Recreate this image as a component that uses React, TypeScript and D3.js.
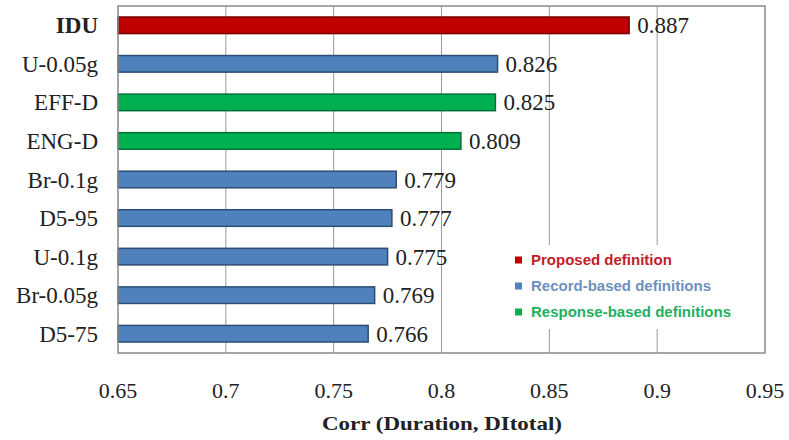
import React from "react";
import * as d3 from "d3";

const categories = ["IDU", "U-0.05g", "EFF-D", "ENG-D", "Br-0.1g", "D5-95", "U-0.1g", "Br-0.05g", "D5-75"];
const values = [0.887, 0.826, 0.825, 0.809, 0.779, 0.777, 0.775, 0.769, 0.766];
const groups = ["proposed", "record", "response", "response", "record", "record", "record", "record", "record"];
const ticks = [0.65, 0.7, 0.75, 0.8, 0.85, 0.9, 0.95];
const legendLabels = ["Proposed definition", "Record-based definitions", "Response-based definitions"];
const legendKeys = ["proposed", "record", "response"];

const fills: Record<string, string> = { proposed: "#C00000", record: "#4F81BD", response: "#00B050" };
const strokes: Record<string, string> = { proposed: "#7a0000", record: "#2c4d75", response: "#00703a" };
const textColors: Record<string, string> = { proposed: "#c0202a", record: "#6f8fc0", response: "#1fb060" };

const W = 789, H = 440;
const L = 118, R = 765, T = 6, B = 353;

export default function App() {
  const x = d3.scaleLinear().domain([0.65, 0.95]).range([L, R]);
  const y = d3.scaleBand<string>().domain(categories).range([T, B]).paddingInner(0.57).paddingOuter(0.285);
  const serif = "'Liberation Serif', 'Times New Roman', serif";
  const sans = "'Liberation Sans', Arial, sans-serif";
  return (
    <svg width={W} height={H} style={{ position: "absolute", left: 0, top: 0, background: "#fff" }}>
      <rect x={0} y={0} width={W} height={H} fill="#fff" />
      <rect x={L} y={T} width={R - L} height={B - T} fill="#fff" />
      {ticks.slice(1, -1).map((t) => (
        <line key={t} x1={x(t)} x2={x(t)} y1={T} y2={B} stroke="#9a9a9a" strokeWidth={1} />
      ))}
      <rect x={505} y={245} width={255} height={84} fill="#fff" />
      {categories.map((c, i) => (
        <g key={c}>
          <rect
            x={x(0.65)}
            y={y(c)!}
            width={x(values[i]) - x(0.65)}
            height={y.bandwidth()}
            fill={fills[groups[i]]}
            stroke={strokes[groups[i]]}
            strokeWidth={1.5}
          />
          <text
            x={L - 20}
            y={y(c)! + y.bandwidth() / 2}
            dy="0.35em"
            textAnchor="end"
            fontFamily={serif}
            fontSize={23}
            fontWeight={c === "IDU" ? "bold" : "normal"}
            fill="#222"
          >
            {c}
          </text>
          <text
            x={x(values[i]) + 8}
            y={y(c)! + y.bandwidth() / 2}
            dy="0.35em"
            fontFamily={serif}
            fontSize={23}
            fill="#222"
          >
            {values[i].toFixed(3)}
          </text>
        </g>
      ))}
      <rect x={L} y={T} width={R - L} height={B - T} fill="none" stroke="#8a8a8a" strokeWidth={1.5} />
      {ticks.map((t) => (
        <text key={t} x={x(t)} y={390} dy="0.35em" textAnchor="middle" fontFamily={serif} fontSize={22} fill="#222">
          {String(t)}
        </text>
      ))}
      <text
        x={442}
        y={423}
        dy="0.35em"
        textAnchor="middle"
        fontFamily={serif}
        fontSize={19}
        fontWeight="bold"
        fill="#222"
        textLength={240}
        lengthAdjust="spacingAndGlyphs"
      >
        Corr (Duration, DItotal)
      </text>
      {legendKeys.map((k, i) => (
        <g key={k}>
          <rect x={515} y={260 + i * 26 - 3.5} width={7} height={7} fill={fills[k]} />
          <text x={531} y={260 + i * 26} dy="0.35em" fontFamily={sans} fontSize={15} fontWeight="bold" fill={textColors[k]}>
            {legendLabels[i]}
          </text>
        </g>
      ))}
    </svg>
  );
}
